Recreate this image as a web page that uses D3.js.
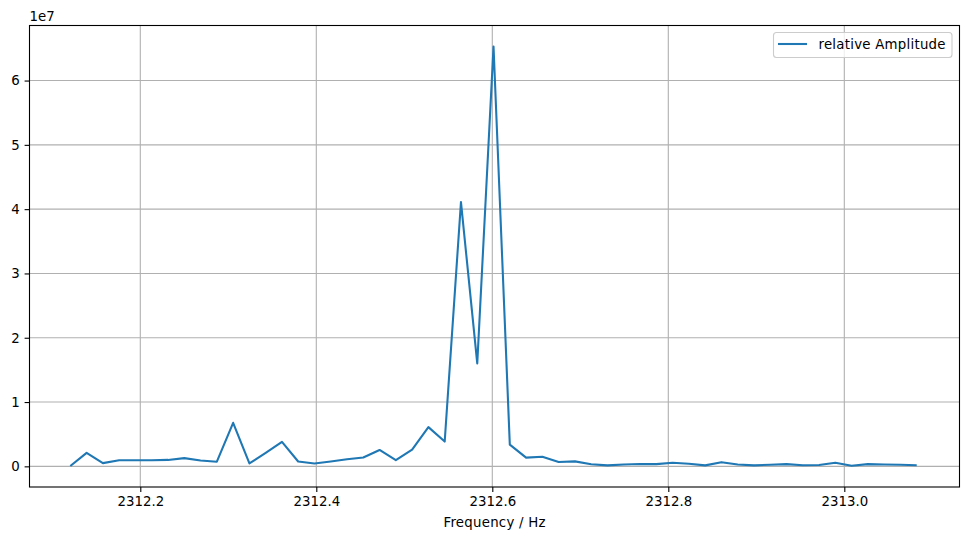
<!DOCTYPE html>
<html><head><meta charset="utf-8">
<script src="https://cdn.jsdelivr.net/npm/d3@7"></script>
<style>body{margin:0;background:#fff}svg{display:block}text{font-family:"DejaVu Sans",sans-serif}</style>
</head><body>
<script>
const frequencies = [2312.1205,2312.1390,2312.1575,2312.1760,2312.1945,2312.2130,2312.2315,2312.2500,2312.2685,2312.2870,
2312.3055,2312.3240,2312.3425,2312.3610,2312.3794,2312.3979,2312.4164,2312.4349,2312.4534,2312.4719,
2312.4904,2312.5089,2312.5274,2312.5459,2312.5644,2312.5829,2312.6014,2312.6199,2312.6384,2312.6569,
2312.6754,2312.6939,2312.7124,2312.7309,2312.7494,2312.7679,2312.7864,2312.8049,2312.8234,2312.8419,
2312.8604,2312.8789,2312.8974,2312.9159,2312.9343,2312.9528,2312.9713,2312.9898,2313.0083,2313.0268,
2313.0453,2313.0638,2313.0823];
const amplitudes = [0.05e6,2.1e6,0.5e6,0.95e6,0.95e6,0.95e6,1.0e6,1.28e6,0.9e6,0.72e6,
6.77e6,0.45e6,2.1e6,3.8e6,0.75e6,0.45e6,0.75e6,1.1e6,1.38e6,2.55e6,
0.95e6,2.6e6,6.1e6,3.85e6,41.1e6,16.0e6,65.3e6,3.38e6,1.36e6,1.5e6,
0.67e6,0.77e6,0.33e6,0.15e6,0.3e6,0.36e6,0.34e6,0.57e6,0.41e6,0.15e6,
0.65e6,0.3e6,0.15e6,0.26e6,0.34e6,0.18e6,0.2e6,0.55e6,0.1e6,0.34e6,
0.28e6,0.24e6,0.18e6];
const xLimits = [2312.0741, 2313.1309];
const xTicks = [2312.2, 2312.4, 2312.6, 2312.8, 2313.0];
const yTicks = [0, 1e7, 2e7, 3e7, 4e7, 5e7, 6e7];
const seriesName = "relative Amplitude";
const xLabel = "Frequency / Hz";
const offsetText = "1e7";

const W = 968, H = 540;
const L = 29.5, R = 959.5, T = 25.5, B = 487;
const svg = d3.select("body").append("svg").attr("width", W).attr("height", H);

const yExt = d3.extent(amplitudes), yr = yExt[1]-yExt[0];
const x = d3.scaleLinear().domain(xLimits).range([L, R]);
const y = d3.scaleLinear().domain([yExt[0]-0.05*yr, yExt[1]+0.05*yr]).range([B, T]);

// grid
const g = svg.append("g");
g.selectAll(".gx").data(xTicks).join("line")
  .attr("x1", d=>x(d)).attr("x2", d=>x(d)).attr("y1", T).attr("y2", B)
  .attr("stroke", "#b0b0b0").attr("stroke-width", 1.1);
g.selectAll(".gy").data(yTicks).join("line")
  .attr("y1", d=>y(d)).attr("y2", d=>y(d)).attr("x1", L).attr("x2", R)
  .attr("stroke", "#b0b0b0").attr("stroke-width", 1.1);

// line
const line = d3.line().x((d,i)=>x(frequencies[i])).y(d=>y(d));
svg.append("path").datum(amplitudes).attr("d", line)
  .attr("fill", "none").attr("stroke", "#1f77b4").attr("stroke-width", 2.08)
  .attr("stroke-linejoin", "round").attr("stroke-linecap", "butt");

// axes
const xAxis = d3.axisBottom(x).tickValues(xTicks).tickFormat(d3.format(".1f")).tickSizeOuter(0).tickSize(4.9).tickPadding(4.9);
const yAxis = d3.axisLeft(y).tickValues(yTicks).tickFormat(d=>d3.format("d")(d/1e7)).tickSizeOuter(0).tickSize(4.9).tickPadding(4.9);
const ax = svg.append("g").attr("transform", `translate(0,${B})`).call(xAxis);
const ay = svg.append("g").attr("transform", `translate(${L},0)`).call(yAxis);
[ax, ay].forEach(a => {
  a.select(".domain").remove();
  a.selectAll("line").attr("stroke", "#000").attr("stroke-width", 1.1);
  a.selectAll("text").attr("fill", "#000").style("font-size", "13.33px").style("font-family", "DejaVu Sans");
});

// spines
svg.append("rect").attr("x", L).attr("y", T).attr("width", R-L).attr("height", B-T)
  .attr("fill", "none").attr("stroke", "#000").attr("stroke-width", 1.1);

// labels
svg.append("text").attr("x", (L+R)/2).attr("y", 527).attr("text-anchor", "middle")
  .attr("textLength", 102).attr("lengthAdjust", "spacing")
  .style("font-size", "13.33px").text(xLabel);
svg.append("text").attr("x", L).attr("y", 21).style("font-size", "13.33px").text(offsetText);

// legend
const lg = svg.append("g");
lg.append("rect").attr("x", 773.5).attr("y", 32.5).attr("width", 178.5).attr("height", 25).attr("rx", 3)
  .attr("fill", "#fff").attr("fill-opacity", 0.8).attr("stroke", "#cccccc").attr("stroke-width", 1.1);
lg.append("line").attr("x1", 778).attr("x2", 807).attr("y1", 44).attr("y2", 44)
  .attr("stroke", "#1f77b4").attr("stroke-width", 2.08);
lg.append("text").attr("x", 818.5).attr("y", 49).attr("textLength", 127).attr("lengthAdjust", "spacing")
  .style("font-size", "13.33px").text(seriesName);
</script>
</body></html>
